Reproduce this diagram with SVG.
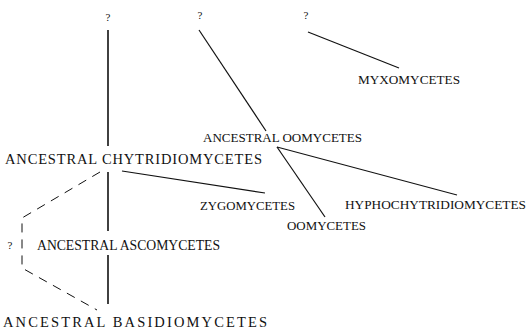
<svg xmlns="http://www.w3.org/2000/svg" width="528" height="332" viewBox="0 0 528 332">
<style>
text{font-family:"Liberation Serif","Times New Roman",serif;font-size:13.5px;fill:#111}
.b{font-size:14.5px}
.q{font-size:11px}
.l{stroke:#111;stroke-width:1.2;fill:none}
.v{stroke:#111;stroke-width:1.6;fill:none}
.d{stroke:#111;stroke-width:1;fill:none;stroke-dasharray:9 7}
</style>
<rect width="528" height="332" fill="#fff"/>
<g id="connectors">
<line class="v" x1="108" y1="30" x2="108" y2="146"/>
<line class="v" x1="108" y1="172" x2="108" y2="231"/>
<line class="v" x1="108" y1="255" x2="108" y2="304"/>
<line class="l" x1="199" y1="30" x2="266" y2="131"/>
<line class="l" x1="308" y1="32" x2="399" y2="68"/>
<line class="l" x1="277" y1="147" x2="325" y2="217"/>
<line class="l" x1="277" y1="147" x2="457" y2="195"/>
<line class="l" x1="122" y1="171" x2="265" y2="193"/>
<polyline class="d" points="100,172 22,218 22,268 97,310"/>
</g>
<g id="q1"><text class="q" x="108" y="21" text-anchor="middle">?</text></g>
<g id="q2"><text class="q" x="200" y="19" text-anchor="middle">?</text></g>
<g id="q3"><text class="q" x="306" y="19" text-anchor="middle">?</text></g>
<g id="q4"><text class="q" x="10" y="249" text-anchor="middle">?</text></g>
<g id="myxomycetes"><text x="358" y="84" textLength="102" lengthAdjust="spacingAndGlyphs">MYXOMYCETES</text></g>
<g id="ancestral-oomycetes"><text x="203" y="142" textLength="159" lengthAdjust="spacingAndGlyphs">ANCESTRAL OOMYCETES</text></g>
<g id="ancestral-chytridiomycetes"><text class="b" x="5" y="164" textLength="257">ANCESTRAL CHYTRIDIOMYCETES</text></g>
<g id="zygomycetes"><text x="200" y="210" textLength="95" lengthAdjust="spacingAndGlyphs">ZYGOMYCETES</text></g>
<g id="hyphochytridiomycetes"><text x="345" y="209" textLength="181" lengthAdjust="spacingAndGlyphs">HYPHOCHYTRIDIOMYCETES</text></g>
<g id="oomycetes"><text x="287" y="230" textLength="79" lengthAdjust="spacingAndGlyphs">OOMYCETES</text></g>
<g id="ancestral-ascomycetes"><text class="b" x="37" y="250" textLength="183" lengthAdjust="spacingAndGlyphs">ANCESTRAL ASCOMYCETES</text></g>
<g id="ancestral-basidiomycetes"><text class="b" x="3" y="327" textLength="264">ANCESTRAL BASIDIOMYCETES</text></g>
</svg>
